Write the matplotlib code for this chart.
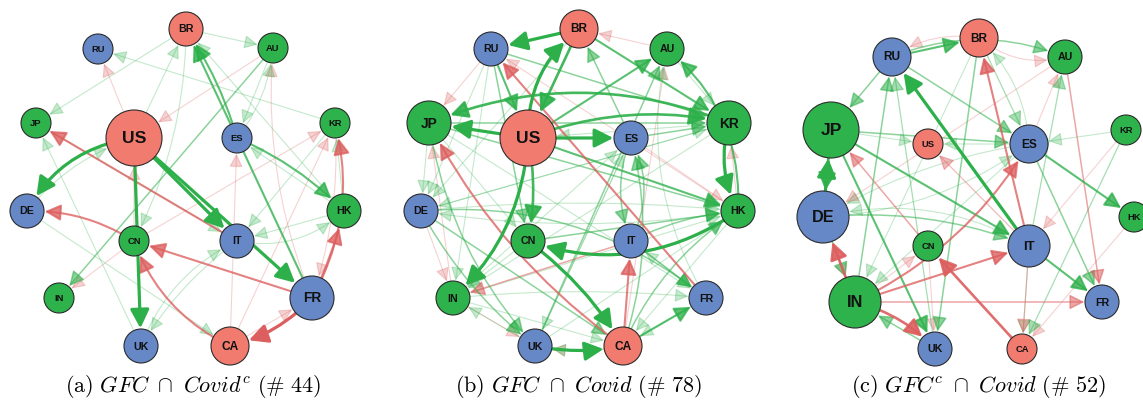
import matplotlib
matplotlib.use("Agg")
import matplotlib.pyplot as plt
from matplotlib.patches import Circle, FancyArrowPatch

plt.rcParams['mathtext.fontset'] = 'cm'

# ---------------- data ----------------
countries = ["BR", "RU", "AU", "JP", "US", "ES", "KR", "DE", "HK", "CN", "IT", "IN", "FR", "UK", "CA"]
region = {"BR": "am", "US": "am", "CA": "am",
          "RU": "eu", "ES": "eu", "DE": "eu", "IT": "eu", "FR": "eu", "UK": "eu",
          "AU": "ap", "JP": "ap", "KR": "ap", "HK": "ap", "CN": "ap", "IN": "ap"}

# node layout (pixel positions) and node sizes (radius, px) per panel
pos_a_x = [186, 98, 273, 36, 134, 237, 335, 27, 344, 134, 237, 59, 312, 141, 230]
pos_a_y = [29, 49, 48, 123, 138, 138, 123, 211, 211, 241, 241, 298, 298, 346, 346]
size_a = [17, 15, 15, 15, 28, 15, 15, 17, 17, 15, 17, 15, 22, 17, 19]

pos_b_x = [579, 491, 667, 429, 528, 631, 729, 421, 738, 528, 631, 453, 706, 535, 623]
pos_b_y = [29, 49, 49, 123, 138, 138, 123, 211, 211, 241, 241, 298, 298, 346, 346]
size_b = [19, 17, 17, 22, 28, 17, 22, 17, 17, 17, 17, 17, 17, 17, 19]

pos_c_x = [979, 892, 1065, 831, 928, 1029, 1126, 823, 1134, 928, 1029, 855, 1102, 935, 1022]
pos_c_y = [38, 57, 57, 130, 144, 144, 130, 217, 217, 246, 246, 302, 302, 349, 349]
size_c = [19, 19, 17, 28, 15, 19, 15, 26, 15, 15, 21, 26, 17, 17, 15]

# edges: (source, target, signed strength) ; + = green, - = red
edges_a = [
    ("US", "DE", 3), ("US", "IT", 3), ("US", "FR", 3), ("US", "UK", 3),
    ("ES", "BR", 2), ("FR", "BR", 2), ("ES", "HK", 2),
    ("FR", "CA", -3), ("FR", "KR", -2), ("FR", "HK", -2), ("FR", "CN", -2),
    ("CA", "CN", -2), ("CN", "DE", -2), ("IT", "JP", -2),
    ("CA", "ES", -1), ("CA", "FR", -1), ("CA", "KR", -1), ("FR", "AU", -1),
    ("KR", "FR", -1), ("AU", "US", -1), ("US", "RU", -1), ("CN", "US", -1),
    ("CN", "IN", -1), ("CN", "KR", -1),
    ("BR", "AU", 1), ("KR", "RU", 1), ("BR", "JP", 1), ("US", "BR", 1),
    ("BR", "CN", 1), ("HK", "BR", 1), ("HK", "ES", 1), ("HK", "KR", 1),
    ("AU", "ES", 1), ("ES", "AU", 1), ("AU", "IN", 1.5), ("DE", "US", 1),
    ("DE", "CA", 1), ("UK", "JP", 1), ("UK", "IT", 1), ("IT", "UK", 1),
    ("IT", "HK", 1), ("HK", "IT", 1), ("KR", "IT", 1), ("JP", "IT", 1),
]

edges_b = [
    ("BR", "RU", 3), ("US", "BR", 3), ("BR", "US", 2.5), ("US", "JP", 3),
    ("US", "ES", 3), ("US", "IN", 3), ("US", "CN", 2.5), ("CN", "CA", 3),
    ("HK", "CN", 3), ("KR", "HK", 3), ("KR", "JP", 2.5), ("US", "KR", 2.5),
    ("BR", "KR", 2), ("UK", "CA", 3), ("CA", "FR", 2), ("US", "HK", 2),
    ("HK", "AU", 2), ("US", "AU", 2), ("JP", "KR", 1.5), ("RU", "US", 2),
    ("CA", "IT", -2), ("FR", "RU", -2), ("CA", "JP", -2), ("IT", "IN", -1.5),
    ("AU", "BR", -1), ("CA", "AU", -1), ("HK", "RU", -1), ("IN", "UK", -1),
    ("RU", "JP", -1), ("DE", "IN", -1), ("HK", "KR", -1), ("CA", "UK", -1),
    ("IN", "JP", -1), ("ES", "HK", -1),
    ("JP", "HK", 1.5), ("DE", "HK", 1), ("HK", "DE", 1), ("DE", "KR", 1),
    ("KR", "DE", 1), ("IN", "FR", 1), ("DE", "FR", 1.5), ("JP", "FR", 1),
    ("UK", "HK", 1), ("CA", "HK", 1.5), ("IT", "HK", 1.5), ("IT", "FR", 1.5),
    ("FR", "IT", 1), ("ES", "IT", 1.5), ("IT", "ES", 1.5), ("CA", "ES", 1.5),
    ("UK", "ES", 1), ("RU", "KR", 1.5), ("RU", "CN", 1.5), ("JP", "CN", 1),
    ("JP", "DE", 1), ("RU", "DE", 1), ("RU", "IN", 1), ("JP", "UK", 1.5),
    ("DE", "UK", 1.5), ("IN", "CA", 1), ("UK", "AU", 1.5), ("KR", "IN", 1),
    ("ES", "BR", 1.5), ("ES", "KR", 1.5), ("CN", "HK", 1.5), ("IN", "HK", 1),
    ("UK", "IN", 1), ("CN", "IN", 1), ("FR", "CA", 1), ("FR", "AU", 1),
    ("KR", "US", 1), ("IN", "ES", 1), ("DE", "CA", 1.5), ("CA", "UK", 1),
    ("BR", "DE", 1), ("AU", "KR", 1), ("HK", "CA", 1), ("ES", "UK", 1),
]

edges_c = [
    ("RU", "BR", 2), ("BR", "RU", -1), ("RU", "JP", 1.5), ("RU", "AU", 1.5),
    ("RU", "ES", 1.5), ("IT", "RU", 3), ("JP", "DE", 2.5), ("DE", "JP", 3),
    ("JP", "ES", 1.5), ("JP", "IT", 2), ("JP", "UK", 2), ("IN", "DE", -2.5),
    ("DE", "IN", 1.5), ("IN", "UK", -2.5), ("UK", "IN", 1.5), ("IN", "ES", -2),
    ("IN", "IT", -2), ("IN", "FR", -1.5), ("CA", "CN", -2.5), ("CN", "JP", -1.5),
    ("IT", "BR", -2), ("IT", "US", -1.2), ("IT", "CA", -1.2), ("IT", "FR", 2),
    ("ES", "HK", 2), ("ES", "FR", 1.5), ("AU", "FR", -1.5), ("KR", "ES", 1),
    ("KR", "CA", 1.2), ("HK", "CA", -1), ("KR", "IT", -1), ("ES", "US", 1),
    ("BR", "UK", 1.5), ("BR", "ES", 1.2), ("ES", "AU", -1), ("IT", "AU", 1.2),
    ("DE", "ES", 1), ("DE", "IT", 1.5), ("IT", "DE", 1), ("IN", "RU", 1.5),
    ("UK", "RU", 1.2), ("IN", "CN", -1), ("ES", "DE", 1), ("AU", "DE", -1),
    ("BR", "IN", 1), ("ES", "IN", 1), ("IT", "CA", 1), ("DE", "IN", -1),
    ("CN", "UK", -1), ("BR", "AU", -1), ("ES", "BR", 1), ("JP", "US", 1),
]

# curvature of curved edges
curv_a = {("US", "DE"): 0.25, ("FR", "CA"): -0.15, ("FR", "KR"): 0.2, ("CA", "CN"): -0.2,
          ("CN", "DE"): 0.15, ("ES", "HK"): -0.1, ("FR", "AU"): -0.12, ("KR", "FR"): -0.1,
          ("BR", "CN"): -0.12, ("ES", "AU"): 0.15, ("DE", "US"): -0.15, ("UK", "IT"): -0.2,
          ("IT", "UK"): 0.1, ("IT", "HK"): 0.25, ("ES", "BR"): 0.08, ("FR", "HK"): 0.05}
curv_b = {("US", "BR"): -0.25, ("US", "IN"): -0.2, ("US", "CN"): -0.1, ("CN", "CA"): -0.1,
          ("HK", "CN"): -0.25, ("KR", "HK"): 0.2, ("KR", "JP"): 0.2, ("US", "KR"): -0.15,
          ("UK", "CA"): 0.1, ("HK", "AU"): 0.25, ("CA", "JP"): -0.12, ("DE", "HK"): -0.05,
          ("HK", "DE"): -0.08, ("ES", "IT"): 0.2, ("IT", "ES"): 0.25, ("CA", "ES"): 0.15,
          ("DE", "FR"): -0.2, ("IN", "FR"): -0.05, ("JP", "UK"): 0.15, ("DE", "UK"): 0.1,
          ("IT", "HK"): -0.1, ("CA", "HK"): -0.15, ("FR", "AU"): -0.2, ("CA", "UK"): -0.1}
curv_c = {("BR", "RU"): 0.2, ("RU", "AU"): -0.2, ("IN", "UK"): -0.15, ("IN", "ES"): 0.15,
          ("DE", "IT"): -0.12, ("IT", "DE"): 0.2, ("DE", "ES"): 0.15, ("ES", "DE"): 0.1,
          ("BR", "AU"): 0.25, ("ES", "BR"): 0.2}

captions = [r"$\mathrm{(a)}\ GFC\ \cap\ Covid^{c}\ \mathrm{(\#\ 44)}$",
            r"$\mathrm{(b)}\ GFC\ \cap\ Covid\ \mathrm{(\#\ 78)}$",
            r"$\mathrm{(c)}\ GFC^{c}\ \cap\ Covid\ \mathrm{(\#\ 52)}$"]
caption_x = [193, 578, 979]

# ---------------- style ----------------
node_col = {"am": "#F27B6F", "eu": "#6688C7", "ap": "#2EB24B"}
GREEN = "#2DB04A"
RED = "#DD5E5E"

W, H = 1143, 401
fig = plt.figure(figsize=(W / 100, H / 100), dpi=100)
ax = fig.add_axes([0, 0, 1, 1])
ax.set_xlim(0, W)
ax.set_ylim(H, 0)
ax.axis("off")

PX2PT = 72 / 100.0


def style(w):
    a = abs(w)
    if a >= 3:
        return 2.3, 1.0, 15
    if a >= 2.5:
        return 1.9, 0.9, 14
    if a >= 2:
        return 1.5, 0.78, 13
    if a >= 1.5:
        return 1.1, 0.55, 12
    if a >= 1.2:
        return 0.9, 0.42, 12
    return 0.8, 0.28, 11


def draw_panel(xs, ys, rs, edges, curv):
    P = {c: (x, y) for c, x, y in zip(countries, xs, ys)}
    R = {c: r for c, r in zip(countries, rs)}
    for s, t, w in sorted(edges, key=lambda e: abs(e[2])):
        lw, al, ms = style(w)
        col = GREEN if w > 0 else RED
        rad = curv.get((s, t), 0.0)
        arr = FancyArrowPatch(P[s], P[t],
                              connectionstyle=f"arc3,rad={rad}",
                              arrowstyle="-|>,head_length=0.75,head_width=0.38",
                              mutation_scale=ms, lw=lw, color=col, alpha=al,
                              shrinkA=R[s] * PX2PT, shrinkB=R[t] * PX2PT + 0.5,
                              zorder=2 + abs(w) * 0.1)
        ax.add_patch(arr)
    for c in countries:
        x, y = P[c]
        r = R[c]
        ax.add_patch(Circle((x, y), r, facecolor=node_col[region[c]],
                            edgecolor="#2b2b2b", lw=0.8, zorder=5))
        ax.text(x, y + 0.5, c, ha="center", va="center", fontsize=r * 0.45,
                fontweight="bold", family="Liberation Sans", color="#111111", zorder=6)


draw_panel(pos_a_x, pos_a_y, size_a, edges_a, curv_a)
draw_panel(pos_b_x, pos_b_y, size_b, edges_b, curv_b)
draw_panel(pos_c_x, pos_c_y, size_c, edges_c, curv_c)

for cap, cx in zip(captions, caption_x):
    ax.text(cx, 387, cap, ha="center", va="center", fontsize=16, color="black")

fig.savefig("out.png", dpi=100)
